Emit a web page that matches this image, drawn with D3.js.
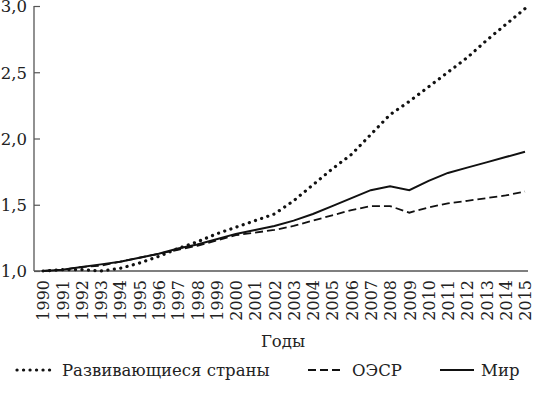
<!DOCTYPE html>
<html><head><meta charset="utf-8">
<script src="https://cdn.jsdelivr.net/npm/d3@7"></script>
<style>body{margin:0;background:#fff}svg{display:block}text{font-family:"DejaVu Serif",serif;fill:#222}</style>
</head><body>
<script>
const years = d3.range(1990, 2016);
const developing = [1.00,1.01,1.01,1.00,1.02,1.06,1.11,1.17,1.22,1.28,1.33,1.38,1.43,1.53,1.65,1.77,1.88,2.03,2.18,2.28,2.39,2.50,2.61,2.74,2.86,2.98];
const oecd = [1.00,1.01,1.03,1.04,1.07,1.10,1.13,1.16,1.19,1.23,1.27,1.29,1.31,1.34,1.38,1.42,1.46,1.49,1.49,1.44,1.48,1.51,1.53,1.55,1.57,1.60];
const world = [1.00,1.01,1.03,1.05,1.07,1.10,1.13,1.17,1.20,1.24,1.28,1.31,1.34,1.38,1.43,1.49,1.55,1.61,1.64,1.61,1.68,1.74,1.78,1.82,1.86,1.90];
const yTicks = [1.0,1.5,2.0,2.5,3.0];
const seriesNames = ["Развивающиеся страны","ОЭСР","Мир"];
const xTitle = "Годы";

const W=533,H=399;
const svg=d3.select("body").append("svg").attr("width",W).attr("height",H);
const x=d3.scaleLinear().domain([1990,2015]).range([43,525]);
const y=d3.scaleLinear().domain([1,3]).range([271,6]);

// y axis
const ya=svg.append("g").attr("transform","translate(34,0)")
  .call(d3.axisRight(y).tickValues(yTicks).tickSize(6).tickFormat(d=>d3.format(".1f")(d).replace(".",",")));
ya.select(".domain").attr("stroke","#555").attr("stroke-width",1.3).attr("d","M0,6V271");
ya.selectAll(".tick line").attr("stroke","#555").attr("stroke-width",1.2);
ya.selectAll(".tick text").attr("x",-7).attr("text-anchor","end").attr("dy","0.35em").style("font-size","16.5px").style("font-family","DejaVu Serif").attr("fill","#222");

// x axis
const xa=svg.append("g").attr("transform","translate(0,271)")
  .call(d3.axisBottom(x).tickValues(years).tickSize(0).tickFormat(d3.format("d")));
xa.select(".domain").attr("stroke","#555").attr("stroke-width",1.3).attr("d","M34,0H528");
xa.selectAll(".tick text").attr("transform","rotate(-90)").attr("x",-9).attr("y",0).attr("dy","0.36em")
  .attr("text-anchor","end").style("font-size","16px").style("font-family","DejaVu Serif").attr("fill","#222");

svg.append("text").attr("x",283).attr("y",347).attr("text-anchor","middle").style("font-size","16.5px").text(xTitle);

const line=d3.line().x((d,i)=>x(years[i])).y(d=>y(d));
const styles=[
  {data:developing,dash:"0.1,6.4",w:3.2,cap:"round"},
  {data:oecd,dash:"8,4",w:1.8,cap:"butt"},
  {data:world,dash:null,w:2.0,cap:"butt"}
];
styles.forEach(s=>{
  svg.append("path").datum(s.data).attr("d",line).attr("fill","none").attr("stroke","#111")
    .attr("stroke-width",s.w).attr("stroke-dasharray",s.dash).attr("stroke-linecap",s.cap);
});

// legend
const leg=[{x1:17,x2:54,tx:62},{x1:308,x2:344,tx:352},{x1:440,x2:474,tx:481}];
leg.forEach((l,i)=>{
  const s=styles[i];
  svg.append("line").attr("x1",l.x1).attr("x2",l.x2).attr("y1",370).attr("y2",370).attr("stroke","#111")
    .attr("stroke-width",s.w).attr("stroke-dasharray",s.dash).attr("stroke-linecap",s.cap);
  svg.append("text").attr("x",l.tx).attr("y",370).attr("dy","0.35em").style("font-size","16.5px").text(seriesNames[i]);
});
</script>
</body></html>
